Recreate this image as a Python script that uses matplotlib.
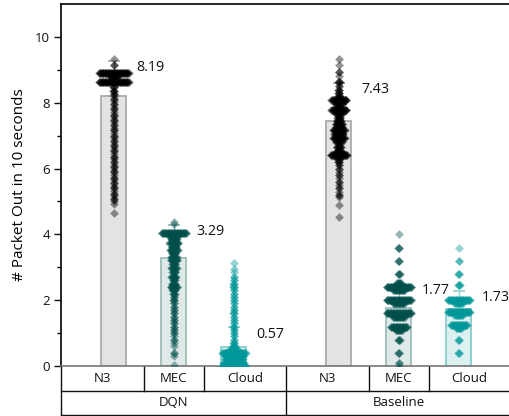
import numpy as np
import matplotlib
matplotlib.use("Agg")
import matplotlib.pyplot as plt
from matplotlib.transforms import blended_transform_factory

plt.rcParams['font.family'] = ['Open Sans', 'DejaVu Sans']

# ---------------- data ----------------
groups = ['DQN', 'Baseline']
categories = ['N3', 'MEC', 'Cloud']
means = [8.19, 3.29, 0.57, 7.43, 1.77, 1.73]
sds = [1.08, 1.00, 0.60, 1.16, 0.71, 0.56]

dqn_n3_values = [9.33, 9.15, 8.91, 8.77, 8.63, 8.48, 8.36, 8.28, 8.2, 8.12, 8.04, 7.96, 7.88,
                 7.8, 7.72, 7.64, 7.56, 7.48, 7.4, 7.32, 7.24, 7.16, 7.08, 7.0, 6.92, 6.84,
                 6.76, 6.68, 6.6, 6.52, 6.44, 6.36, 6.28, 6.2, 6.12, 6.04, 5.96, 5.88, 5.8,
                 5.72, 5.64, 5.56, 5.48, 5.4, 5.32, 5.24, 5.16, 5.08, 5.0, 4.93, 4.65]
dqn_n3_counts = [1, 2, 50, 12, 50, 3, 3, 2, 1, 2, 1, 2, 1,
                 2, 1, 2, 1, 2, 1, 2, 1, 2, 1, 2, 1, 2,
                 1, 2, 1, 2, 1, 2, 1, 2, 1, 2, 1, 2, 1,
                 2, 1, 2, 1, 2, 1, 2, 1, 2, 1, 1, 1]

dqn_mec_values = [4.38, 4.3, 4.04, 3.96, 3.85, 3.74, 3.63, 3.53, 3.42, 3.32, 3.22, 3.1, 2.98,
                  2.85, 2.71, 2.6, 2.5, 2.4, 2.3, 2.2, 2.1, 2.0, 1.9, 1.8, 1.7, 1.6, 1.5,
                  1.4, 1.3, 1.2, 1.1, 1.0, 0.9, 0.8, 0.7, 0.6, 0.4, 0.3, 0.02]
dqn_mec_counts = [1, 1, 42, 15, 10, 16, 8, 14, 7, 10, 12, 6, 10,
                  6, 9, 4, 7, 12, 5, 4, 2, 3, 2, 2, 2, 2, 2,
                  2, 2, 2, 2, 2, 1, 2, 1, 1, 2, 1, 1]

dqn_cloud_values = [3.13, 2.95, 2.86, 2.7, 2.6, 2.5, 2.4, 2.3, 2.2, 2.1, 2.0, 1.9, 1.8, 1.7,
                    1.6, 1.5, 1.4, 1.3, 1.2, 1.1, 1.0, 0.9, 0.8, 0.7, 0.6, 0.5, 0.4, 0.3,
                    0.2, 0.1, 0.0]
dqn_cloud_counts = [1, 1, 1, 2, 2, 3, 3, 2, 2, 2, 2, 2, 2, 2,
                    3, 2, 2, 2, 3, 2, 2, 2, 2, 3, 4, 15, 40, 30, 30, 35, 40]

base_n3_values = [9.33, 9.15, 8.94, 8.8, 8.63, 8.5, 8.4, 8.3, 8.2, 8.08, 7.95, 7.85, 7.78,
                  7.65, 7.55, 7.45, 7.35, 7.25, 7.17, 7.05, 6.93, 6.8, 6.65, 6.5, 6.41,
                  6.3, 6.2, 6.1, 6.0, 5.9, 5.8, 5.7, 5.6, 5.5, 5.4, 5.3, 5.2, 5.14, 4.9, 4.53]
base_n3_counts = [1, 1, 2, 1, 4, 2, 3, 3, 4, 26, 12, 6, 26,
                  10, 6, 8, 12, 10, 20, 15, 20, 10, 8, 12, 28,
                  5, 3, 2, 2, 1, 2, 1, 2, 1, 2, 1, 2, 1, 1, 1]

base_mec_values = [4.0, 3.6, 3.2, 2.8, 2.52, 2.4, 2.3, 2.0, 1.9, 1.6, 1.5, 1.2, 1.1,
                   0.8, 0.4, 0.1, 0.0]
base_mec_counts = [1, 3, 3, 4, 8, 42, 20, 42, 20, 42, 20, 28, 12, 4, 3, 2, 1]

base_cloud_values = [3.6, 3.2, 2.8, 2.45, 2.0, 1.9, 1.65, 1.55, 1.25, 1.15, 0.8, 0.4]
base_cloud_counts = [1, 2, 3, 4, 38, 15, 38, 15, 28, 10, 3, 3]

swarm_values = [dqn_n3_values, dqn_mec_values, dqn_cloud_values,
                base_n3_values, base_mec_values, base_cloud_values]
swarm_counts = [dqn_n3_counts, dqn_mec_counts, dqn_cloud_counts,
                base_n3_counts, base_mec_counts, base_cloud_counts]

# ---------------- style ----------------
point_colors = {'N3': '#000000', 'MEC': '#004f4b', 'Cloud': '#00979a'}
bar_fill = {'N3': '#e3e3e3', 'MEC': '#dfe9e8', 'Cloud': '#dcf0f0'}
bar_edge = {'N3': '#ababab', 'MEC': '#9dbdba', 'Cloud': '#86cccc'}
err_color = {'N3': '#a6a6a6', 'MEC': '#8fb8b5', 'Cloud': '#8fd3d3'}

group_gap = 0.75
xs = []
cat_of = []
for gi, g in enumerate(groups):
    for ci, c in enumerate(categories):
        xs.append(gi * (len(categories) + group_gap) + ci)
        cat_of.append(c)
xs = np.array(xs, dtype=float)
half_gap = (1 + group_gap) / 2
xmin, xmax = xs[0] - half_gap, xs[-1] + half_gap

fig = plt.figure(figsize=(5.09, 4.16), dpi=100)
ax = fig.add_axes([61 / 509, 50 / 416, 450 / 509, 362 / 416])
ax.set_xlim(xmin, xmax)
ax.set_ylim(0, 11)

# bars
for x, m, c in zip(xs, means, cat_of):
    ax.bar(x, m, width=0.41, color=bar_fill[c], edgecolor=bar_edge[c], linewidth=1.3, zorder=1)

# error bars (upper only)
for x, m, s, c in zip(xs, means, sds, cat_of):
    ax.errorbar([x], [m], yerr=[[0], [s]], fmt='none', ecolor=err_color[c],
                elinewidth=1.0, capsize=4.5, capthick=1.2, zorder=2)

# beeswarm
px_x = ax.transData.transform([[1, 0]])[0][0] - ax.transData.transform([[0, 0]])[0][0]
px_y = ax.transData.transform([[0, 1]])[0][1] - ax.transData.transform([[0, 0]])[0][1]


def swarm_offsets(ys, step_px=0.6, dy_px=1.2):
    ypx = np.asarray(ys) * px_y
    placed_x, placed_y, offs = [], [], []
    for yv in ypx:
        k = 0
        while True:
            cand = ((k + 1) // 2) * step_px * (1 if k % 2 == 1 else -1) if k else 0.0
            ok = True
            for px, py in zip(placed_x, placed_y):
                if abs(py - yv) < dy_px and abs(px - cand) < step_px * 0.99:
                    ok = False
                    break
            if ok:
                break
            k += 1
        placed_x.append(cand)
        placed_y.append(yv)
        offs.append(cand / px_x)
    return np.array(offs)


for x, vals, cnts, c in zip(xs, swarm_values, swarm_counts, cat_of):
    ys = np.repeat(np.array(vals, dtype=float), cnts)
    ys = ys[np.argsort(-ys, kind='stable')]
    offs = swarm_offsets(ys)
    ax.scatter(x + offs, ys, marker='D', s=20, color=point_colors[c], alpha=0.42,
               linewidths=0, zorder=3)

# mean labels
for x, m, s in zip(xs, means, sds):
    ax.text(x + 0.38, m + s - 0.2, f'{m:.2f}', ha='left', va='center', fontsize=10.3,
            color='#111111', zorder=4)

# axes styling
ax.set_yticks([0, 2, 4, 6, 8, 10])
ax.set_yticks([1, 3, 5, 7, 9], minor=True)
ax.set_xticks([])
ax.tick_params(axis='y', which='major', direction='out', length=5, width=1, labelsize=9.5, pad=3,
               colors='#111111')
ax.tick_params(axis='y', which='minor', direction='out', length=3, width=1)
ax.spines['right'].set_visible(False)
ax.spines['left'].set_linewidth(1.2)
ax.spines['top'].set_linewidth(1.2)
ax.spines['bottom'].set_color('#777777')
ax.spines['bottom'].set_linewidth(1.2)
ax.set_ylabel('# Packet Out in 10 seconds', fontsize=11, labelpad=6)

# category table below the axis
trans = blended_transform_factory(ax.transData, ax.transAxes)
axes_h_px = 362.0
y1 = -25 / axes_h_px
y2 = -49 / axes_h_px
line_kw = dict(transform=trans, clip_on=False, color='#111111', lw=1.0)
ax.plot([xmin, xmax], [y1, y1], **line_kw)
ax.plot([xmin, xmax], [y2, y2], **line_kw)
ax.plot([xmin, xmin], [0, y2], **line_kw)

n = len(categories)
for gi, g in enumerate(groups):
    gx = xs[gi * n:(gi + 1) * n]
    left = gx[0] - half_gap
    right = gx[-1] + half_gap
    bounds = [left] + list((gx[:-1] + gx[1:]) / 2) + [right]
    for b in bounds[1:-1]:
        ax.plot([b, b], [0, y1], **line_kw)
    if gi < len(groups) - 1:
        ax.plot([right, right], [0, y2], **line_kw)
    for ci, c in enumerate(categories):
        ax.text((bounds[ci] + bounds[ci + 1]) / 2, y1 / 2, c, transform=trans,
                ha='center', va='center', fontsize=9.5, color='#111111')
    ax.text((left + right) / 2, (y1 + y2) / 2, g, transform=trans,
            ha='center', va='center', fontsize=9.5, color='#111111')

fig.savefig('out.png', dpi=100)
